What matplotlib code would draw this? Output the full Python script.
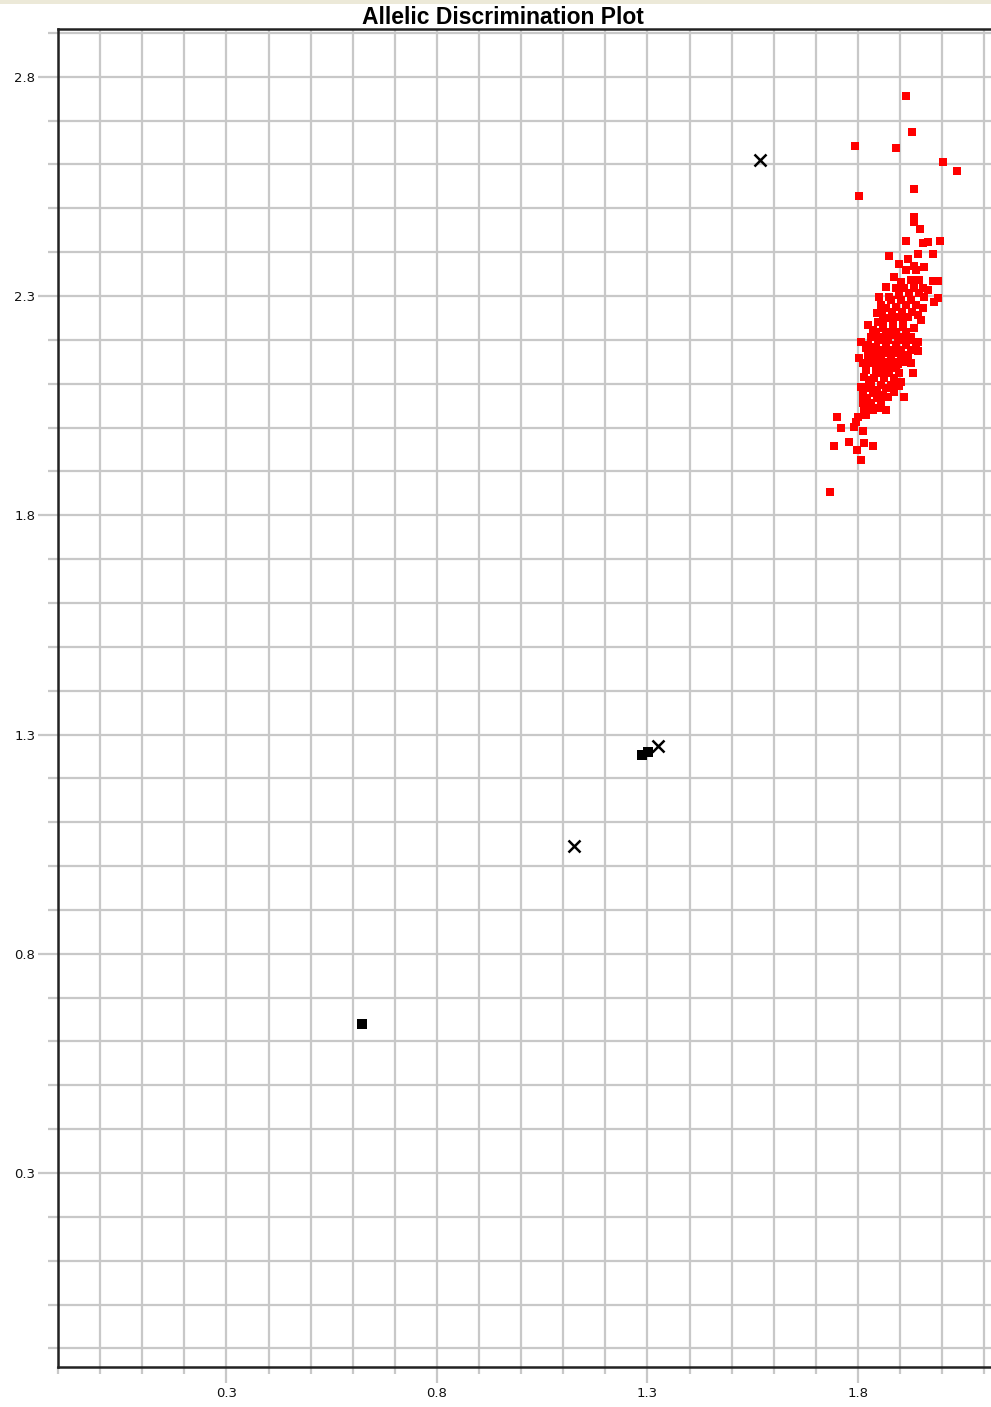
import matplotlib
matplotlib.use("Agg")
import matplotlib.pyplot as plt
import numpy as np
from matplotlib.ticker import MultipleLocator, FixedLocator
from matplotlib.patches import Rectangle

# red cluster (allele 2 homozygotes)
red_x = [1.914, 1.928, 1.793, 1.890, 2.002, 2.035, 1.933, 1.802, 1.933, 1.933,
         1.947, 1.914, 1.954, 1.966, 1.995, 1.874, 1.919, 1.943, 1.978, 1.897,
         1.933, 1.957, 1.938, 1.886, 1.902, 1.926, 1.945, 1.978, 1.990, 1.890,
         1.909, 1.933, 1.954, 1.850, 1.874, 1.897, 1.921, 1.945, 1.957, 1.990,
         1.981, 1.845, 1.867, 1.890, 1.914, 1.938, 1.954, 1.848, 1.871, 1.895,
         1.919, 1.943, 1.836, 1.859, 1.883, 1.907, 1.933, 1.831, 1.855, 1.878,
         1.902, 1.926, 1.807, 1.943, 1.819, 1.843, 1.867, 1.890, 1.914, 1.938,
         1.943, 1.802, 1.824, 1.848, 1.871, 1.895, 1.919, 1.812, 1.836, 1.859,
         1.883, 1.907, 1.926, 1.819, 1.843, 1.867, 1.890, 1.931, 1.814, 1.838,
         1.862, 1.886, 1.902, 1.807, 1.831, 1.855, 1.878, 1.897, 1.812, 1.836,
         1.859, 1.871, 1.909, 1.812, 1.831, 1.855, 1.814, 1.836, 1.867, 1.800,
         1.819, 1.750, 1.760, 1.790, 1.795, 1.812, 1.779, 1.743, 1.798, 1.814,
         1.836, 1.807, 1.733,
         1.859, 1.883, 1.907, 1.848, 1.871, 1.895, 1.919, 1.831, 1.855, 1.878,
         1.902, 1.826, 1.850, 1.874, 1.897, 1.845, 1.821, 1.845, 1.878, 1.902,
         1.926, 1.855, 1.824, 1.824,
         1.857, 1.881, 1.905, 1.928, 1.843, 1.867, 1.890, 1.914, 1.831, 1.855,
         1.878, 1.902, 1.926, 1.819, 1.848, 1.871, 1.895, 1.824, 1.867, 1.886,
         1.824, 1.848, 1.914, 1.966, 1.867, 1.950]
red_y = [2.757, 2.675, 2.643, 2.638, 2.606, 2.586, 2.545, 2.529, 2.481, 2.469,
         2.453, 2.426, 2.421, 2.424, 2.426, 2.392, 2.385, 2.396, 2.396, 2.373,
         2.369, 2.367, 2.360, 2.344, 2.332, 2.337, 2.337, 2.335, 2.335, 2.319,
         2.319, 2.319, 2.319, 2.298, 2.298, 2.303, 2.307, 2.307, 2.298, 2.296,
         2.287, 2.262, 2.273, 2.275, 2.280, 2.280, 2.273, 2.241, 2.250, 2.253,
         2.253, 2.257, 2.223, 2.227, 2.227, 2.230, 2.227, 2.207, 2.207, 2.211,
         2.207, 2.207, 2.196, 2.196, 2.182, 2.184, 2.189, 2.189, 2.189, 2.189,
         2.175, 2.159, 2.166, 2.166, 2.170, 2.170, 2.166, 2.148, 2.148, 2.150,
         2.150, 2.150, 2.148, 2.132, 2.132, 2.132, 2.136, 2.125, 2.116, 2.113,
         2.113, 2.113, 2.104, 2.093, 2.097, 2.097, 2.097, 2.095, 2.075, 2.079,
         2.075, 2.070, 2.070, 2.056, 2.056, 2.059, 2.040, 2.040, 2.040, 2.024,
         2.029, 2.024, 1.999, 2.002, 2.013, 1.993, 1.967, 1.958, 1.949, 1.965,
         1.958, 1.926, 1.853,
         2.246, 2.246, 2.246, 2.200, 2.200, 2.200, 2.200, 2.159, 2.159, 2.159,
         2.159, 2.109, 2.125, 2.125, 2.125, 2.086, 2.068, 2.068, 2.291, 2.291,
         2.291, 2.280, 2.234, 2.189,
         2.264, 2.264, 2.264, 2.264, 2.218, 2.218, 2.218, 2.218, 2.177, 2.177,
         2.177, 2.177, 2.177, 2.143, 2.141, 2.143, 2.145, 2.091, 2.091, 2.081,
         2.045, 2.045, 2.360, 2.314, 2.321, 2.246]

# black squares (no template controls)
ntc_x = [0.622, 1.288, 1.302]
ntc_y = [0.640, 1.253, 1.260]

# undetermined (x)
und_x = [1.568, 1.126, 1.326]
und_y = [2.611, 1.046, 1.274]

fig = plt.figure(figsize=(9.91, 14.07), dpi=100)
fig.patch.set_facecolor("white")

# beige strip at the very top of the window
fig.add_artist(Rectangle((0, 1 - 4 / 1407), 1, 4 / 1407, transform=fig.transFigure,
                         facecolor="#ECE9D8", edgecolor="none"))

ax = fig.add_axes([58 / 991, 40 / 1407, (2.3 * 421) / 991, 1338 / 1407])
ax.set_xlim(-0.1, 2.2)
ax.set_ylim(-0.1425, 2.909)

ax.xaxis.set_major_locator(FixedLocator([0.3, 0.8, 1.3, 1.8]))
ax.yaxis.set_major_locator(FixedLocator([0.3, 0.8, 1.3, 1.8, 2.3, 2.8]))
ax.xaxis.set_minor_locator(MultipleLocator(0.1))
ax.yaxis.set_minor_locator(MultipleLocator(0.1))

ax.grid(True, which="both", color="#C8C8C8", linewidth=1.6)
ax.set_axisbelow(True)

for side in ["left", "bottom", "top"]:
    ax.spines[side].set_color("#222222")
    ax.spines[side].set_linewidth(1.8)
ax.spines["right"].set_visible(False)

# tick lengths in points (px * 0.72)
ax.tick_params(which="both", direction="out", color="#C8C8C8", width=1.6)
ax.tick_params(axis="x", which="major", length=11.5, pad=3)
ax.tick_params(axis="y", which="major", length=14.4, pad=2)
ax.tick_params(axis="x", which="minor", length=5)
ax.tick_params(axis="y", which="minor", length=7.2)
ax.tick_params(labelsize=9.5, labelcolor="#111111")
ax.set_xticklabels(["0.3", "0.8", "1.3", "1.8"], family="DejaVu Sans")
ax.set_yticklabels(["0.3", "0.8", "1.3", "1.8", "2.3", "2.8"], family="DejaVu Sans")

ax.plot(red_x, red_y, "s", color="#FF0000", markersize=5.8, markeredgewidth=0)
ax.plot(ntc_x, ntc_y, "s", color="black", markersize=7.2, markeredgewidth=0)
ax.plot(und_x, und_y, "x", color="black", markersize=8, markeredgewidth=1.8)

fig.text(503 / 991, 1 - 17 / 1407, "Allelic Discrimination Plot", ha="center", va="center",
         fontsize=16.5, fontweight="bold", family="Liberation Sans")

plt.savefig("out.png", dpi=100)
